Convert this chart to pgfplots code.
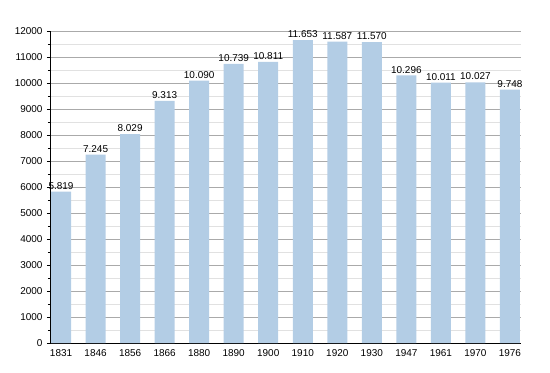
\documentclass[border=0pt]{standalone}
\usepackage{pgfplots}
\pgfplotsset{compat=1.18}
\usepackage{fontspec}
\setmainfont{Liberation Sans}
\definecolor{barblue}{RGB}{179,205,229}
\definecolor{majgrid}{RGB}{170,170,170}
\definecolor{mingrid}{RGB}{225,225,225}
\begin{document}
\begin{tikzpicture}
\begin{axis}[
  at={(0,0)}, anchor=south west,
  scale only axis, width=471bp, height=312bp,
  xmin=-0.32, xmax=13.32, ymin=0, ymax=12000,
  xtick=data,
  xticklabels={1831,1846,1856,1866,1880,1890,1900,1910,1920,1930,1947,1961,1970,1976},
  ytick={0,1000,...,12000},
  minor ytick={500,1500,...,11500},
  scaled y ticks=false,
  axis x line*=bottom, axis y line*=left,
  axis line style={black, line width=0.8pt, -},
  ymajorgrids, yminorgrids,
  major grid style={majgrid, line width=0.6pt},
  minor grid style={mingrid, line width=0.6pt},
  xtick style={draw=none},
  ytick style={black, line width=0.6pt},
  tick align=outside,
  major tick length=3bp, minor tick length=2bp,
  minor tick style={black, line width=0.5pt},
  tick label style={font=\fontsize{10}{12}\selectfont},
  /pgf/number format/assume math mode=true,
  yticklabel style={/pgf/number format/1000 sep={}, xshift=-1bp},
  ybar, bar width=20bp,
  nodes near coords,
  nodes near coords style={font=\fontsize{10}{12}\selectfont, black, /pgf/number format/fixed, /pgf/number format/precision=0, /pgf/number format/1000 sep={.}, inner sep=2bp},
  clip=false,
]
\addplot[fill=barblue, draw=none] coordinates {
(0,5819) (1,7245) (2,8029) (3,9313) (4,10090) (5,10739) (6,10811)
(7,11653) (8,11587) (9,11570) (10,10296) (11,10011) (12,10027) (13,9748)
};
\end{axis}
\path[use as bounding box] (-50bp,-30bp) rectangle (500bp,343bp);
\end{tikzpicture}
\end{document}
